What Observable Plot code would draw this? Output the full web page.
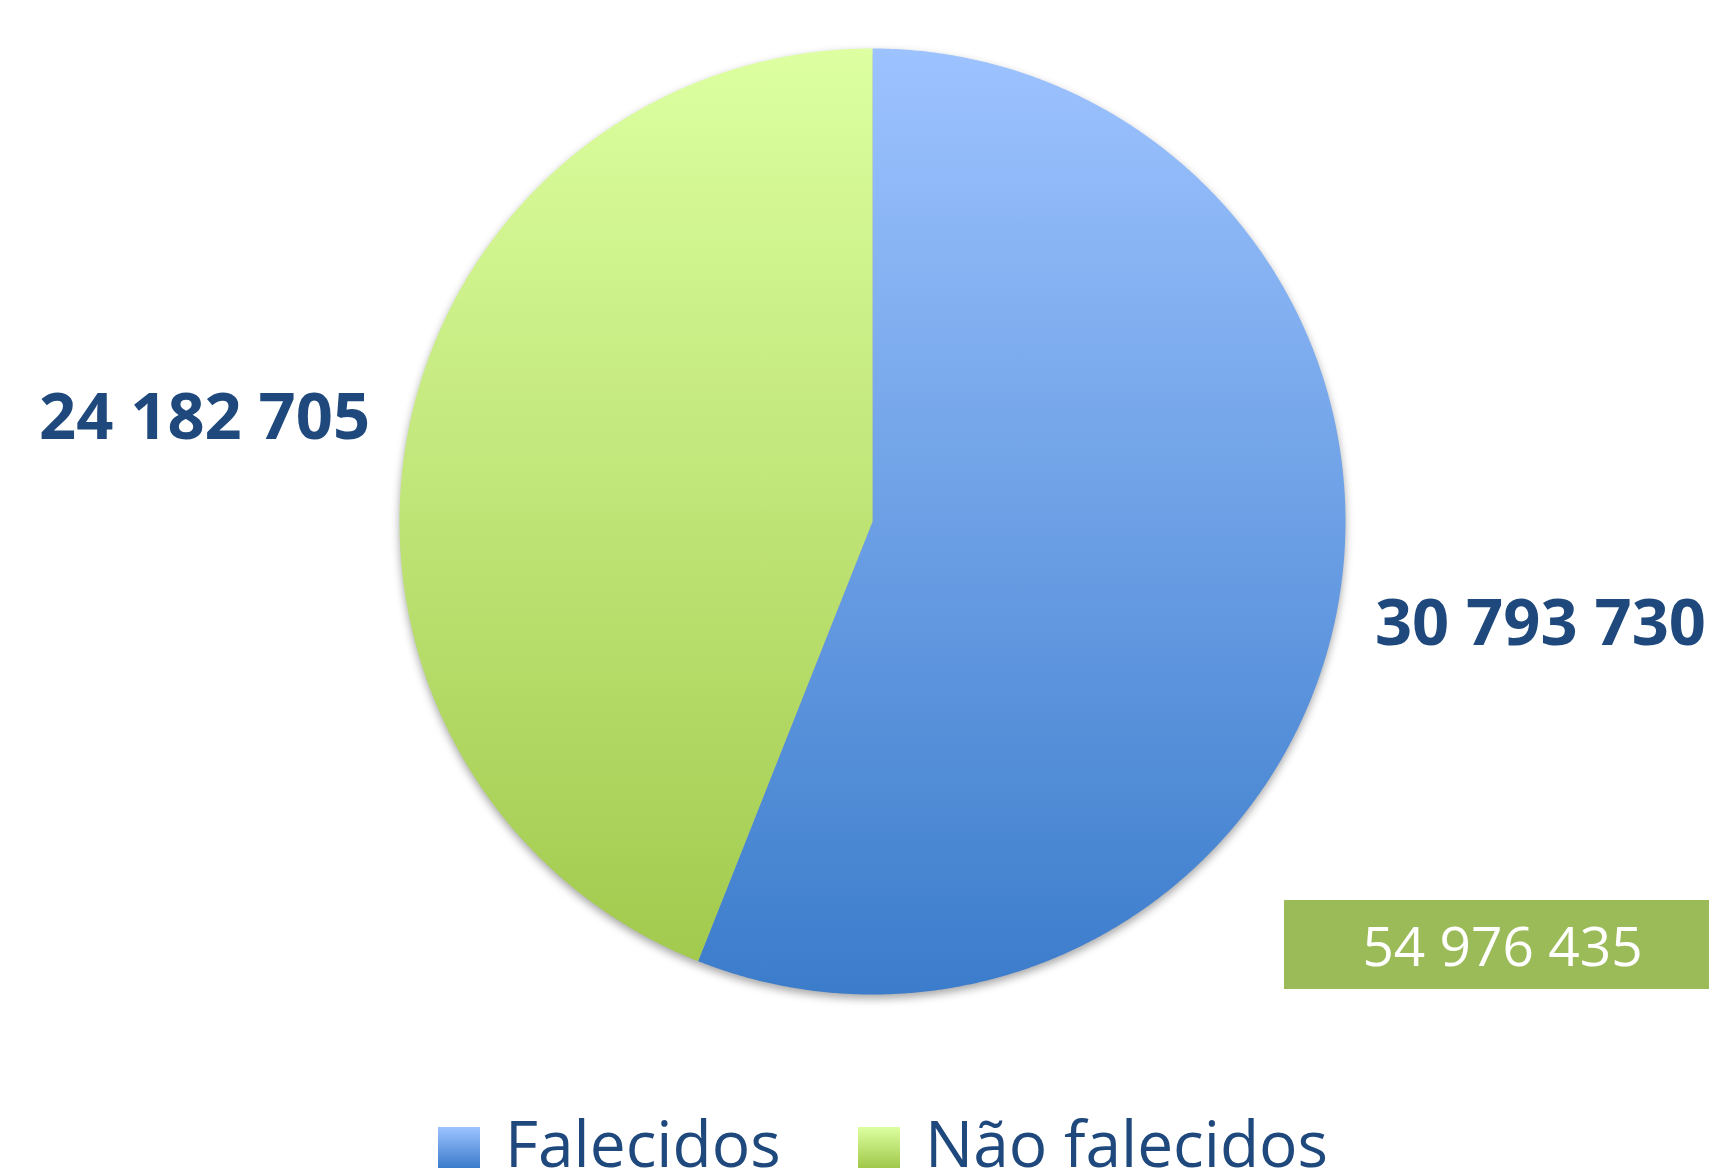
<!DOCTYPE html>
<html>
<head>
<meta charset="utf-8">
<script src="https://cdn.jsdelivr.net/npm/d3@7"></script>
<script src="https://cdn.jsdelivr.net/npm/@observablehq/plot@0.6"></script>
<style>
  html, body { margin: 0; padding: 0; background: #fff; }
  #wrap { position: relative; width: 1709px; height: 1171px; overflow: hidden; font-family: "Open Sans", sans-serif; }
  #chart { position: absolute; left: 0; top: 0; }
  .total { position: absolute; left: 1284px; top: 900px; width: 437px; height: 89px; background: #9BBB59;
           display: flex; align-items: center; justify-content: center; color: #fff; font-size: 55px; line-height: 1; }
  .sw { position: absolute; top: 1127px; width: 42px; height: 41px; }
  .lt { position: absolute; top: 1111px; font-size: 64px; line-height: 1; color: #1F497D; white-space: nowrap; }
</style>
</head>
<body>
<div id="wrap">
  <div id="chart"></div>
</div>
<script>
// ---- data ----
const categories = ["Falecidos", "Não falecidos"];
const values = [30793730, 24182705];
const colorsTop = ["#9DC3FF", "#DDFFA1"];
const colorsBottom = ["#3B7CCB", "#A0C84A"];

// ---- layout ----
const W = 1709, H = 1100;
const cx = 872, cy = 521, R = 473;

const fmt = d3.formatLocale({decimal: ",", thousands: " ", grouping: [3], currency: ["", ""]}).format(",d");

const arcs = d3.pie().sort(null).value(d => d.value)(categories.map((c, i) => ({category: c, value: values[i], i})));

// polygon points of each slice (unit circle; angle 0 at top, clockwise)
const pts = [];
for (const a of arcs) {
  const n = Math.max(4, Math.ceil((a.endAngle - a.startAngle) / 0.005));
  pts.push({slice: a.data.category, x: 0, y: 0});
  for (let k = 0; k <= n; k++) {
    const t = a.startAngle + (a.endAngle - a.startAngle) * k / n;
    pts.push({slice: a.data.category, x: Math.sin(t), y: -Math.cos(t)});
  }
  pts.push({slice: a.data.category, x: 0, y: 0});
}

const labels = arcs.map(a => {
  const m = (a.startAngle + a.endAngle) / 2;
  return {x: Math.sin(m) * 1.4377, y: -Math.cos(m) * 1.16, text: fmt(a.data.value)};
});

const plot = Plot.plot({
  width: W, height: H,
  margin: 0,
  x: {type: "linear", domain: [-cx / R, (W - cx) / R], range: [0, W], axis: null},
  y: {type: "linear", domain: [-cy / R, (H - cy) / R], range: [0, H], axis: null},
  style: {background: "transparent", overflow: "visible"},
  marks: [
    Plot.line(pts.filter(d => d.slice === categories[0]), {x: "x", y: "y", fill: "url(#grad0)", stroke: "none", curve: "linear"}),
    Plot.line(pts.filter(d => d.slice === categories[1]), {x: "x", y: "y", fill: "url(#grad1)", stroke: "none", curve: "linear"}),
    Plot.text(labels, {x: "x", y: "y", text: "text", fontSize: 65, fontWeight: 700, fill: "#1F497D",
                       fontFamily: "Open Sans", textAnchor: "middle"})
  ]
});

// gradients spanning the whole pie vertically
const ys = plot.scale("y");
const y0 = ys.apply(-1), y1 = ys.apply(1);
const ns = "http://www.w3.org/2000/svg";
const defs = document.createElementNS(ns, "defs");
categories.forEach((c, i) => {
  const g = document.createElementNS(ns, "linearGradient");
  g.setAttribute("id", "grad" + i);
  g.setAttribute("gradientUnits", "userSpaceOnUse");
  g.setAttribute("x1", 0); g.setAttribute("x2", 0);
  g.setAttribute("y1", y0); g.setAttribute("y2", y1);
  const s0 = document.createElementNS(ns, "stop"); s0.setAttribute("offset", "0"); s0.setAttribute("stop-color", colorsTop[i]);
  const s1 = document.createElementNS(ns, "stop"); s1.setAttribute("offset", "1"); s1.setAttribute("stop-color", colorsBottom[i]);
  g.appendChild(s0); g.appendChild(s1);
  defs.appendChild(g);
});
plot.insertBefore(defs, plot.firstChild);

// soft drop shadow under the pie
const pieGroup = document.createElementNS(ns, "g");
pieGroup.setAttribute("style", "filter: drop-shadow(0px 4px 4px rgba(0,0,0,0.35))");
const lineGroups = Array.from(plot.querySelectorAll('g[aria-label="line"]'));
lineGroups[0].parentNode.insertBefore(pieGroup, lineGroups[0]);
lineGroups.forEach(g => pieGroup.appendChild(g));

document.getElementById("chart").appendChild(plot);

// total box
const wrap = document.getElementById("wrap");
const total = document.createElement("div");
total.className = "total";
total.textContent = fmt(d3.sum(values));
wrap.appendChild(total);

// legend (below the svg)
const swLeft = [438, 858];
const txtLeft = [505, 925];
categories.forEach((c, i) => {
  const sw = document.createElement("div");
  sw.className = "sw";
  sw.style.left = swLeft[i] + "px";
  sw.style.background = `linear-gradient(to bottom, ${colorsTop[i]}, ${colorsBottom[i]})`;
  wrap.appendChild(sw);
  const t = document.createElement("div");
  t.className = "lt";
  t.style.left = txtLeft[i] + "px";
  t.textContent = c;
  wrap.appendChild(t);
});
</script>
</body>
</html>
